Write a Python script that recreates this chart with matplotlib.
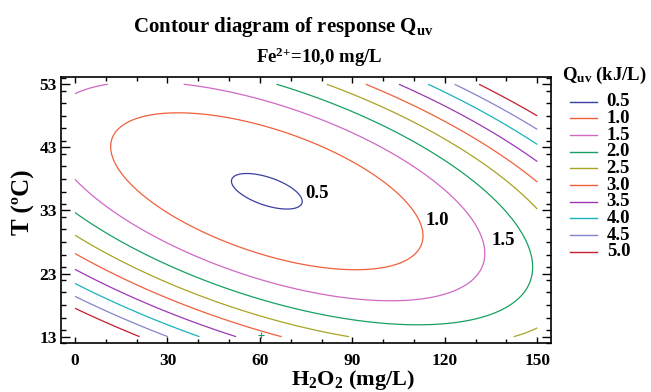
import numpy as np
import matplotlib
matplotlib.use('Agg')
import matplotlib.pyplot as plt
from matplotlib.lines import Line2D
from matplotlib.ticker import MultipleLocator

plt.rcParams['font.family'] = ['Liberation Serif', 'DejaVu Serif']
plt.rcParams['font.weight'] = 'bold'
plt.rcParams['mathtext.fontset'] = 'custom'
plt.rcParams['mathtext.rm'] = 'Liberation Serif:bold'
plt.rcParams['mathtext.it'] = 'Liberation Serif:bold'
plt.rcParams['mathtext.bf'] = 'Liberation Serif:bold'

# ---- contour levels and colours ----
levels = [0.5, 1.0, 1.5, 2.0, 2.5, 3.0, 3.5, 4.0, 4.5, 5.0]
level_labels = ['0.5', '1.0', '1.5', '2.0', '2.5', '3.0', '3.5', '4.0', '4.5', '5.0']
colors = ['#3a40a0', '#f0603c', '#d068c4', '#18a060', '#a8a424',
          '#f0603c', '#9c38b4', '#18b4bc', '#8484cc', '#c41e30']

# ---- points read on the contour lines: H2O2 (mg/L), T (C), Quv ----
pt_h2o2 = [50.8, 73.6, 56.8, 68.1,
           11.6, 112.8, 30.8, 89.2,
           0.0, 10.8, 35.4, 0.0, 133.2, 103.3,
           0.0, 65.6, 148.5, 108.7,
           0.0, 81.7, 150.0, 89.0, 142.2, 150.0,
           0.0, 94.4, 150.0, 67.1,
           0.0, 105.4, 150.0, 52.3,
           0.0, 114.6, 150.0, 40.6,
           0.0, 123.1, 150.0, 30.3,
           0.0, 131.2, 150.0, 20.9]
pt_temp = [37.5, 34.6, 38.8, 33.1,
           43.9, 28.75, 48.5, 23.5,
           51.6, 53.0, 53.0, 38.0, 26.4, 18.7,
           32.7, 53.0, 23.5, 15.0,
           29.0, 53.0, 33.1, 13.0, 13.0, 14.4,
           26.2, 53.0, 37.5, 13.0,
           23.6, 53.0, 40.7, 13.0,
           21.6, 53.0, 43.5, 13.0,
           19.3, 53.0, 45.8, 13.0,
           17.5, 53.0, 47.96, 13.0]
pt_q = [0.5] * 4 + [1.0] * 4 + [1.5] * 6 + [2.0] * 4 + [2.5] * 6 + \
       [3.0] * 4 + [3.5] * 4 + [4.0] * 4 + [4.5] * 4 + [5.0] * 4
# points where a contour meets the frame at a shallow angle count more
pt_weight = [1] * 4 + [1] * 4 + [1, 6, 6, 1, 1, 1] + [1] * 4 + [1] * 6 + \
            [1] * 4 + [1] * 4 + [1] * 4 + [1] * 4 + [1] * 4

h2o2_range = [0, 150]
temp_range = [13, 53]
xticks = [0, 30, 60, 90, 120, 150]
yticks = [13, 23, 33, 43, 53]

# contour annotations
ann_x = [78.6, 117.7, 138.8]
ann_y = [35.7, 31.4, 28.3]
ann_text = ['0.5', '1.0', '1.5']

# small marker near the bottom axis
mark_x = [60.5]
mark_y = [13.3]

# ---- quadratic response surface fitted to the read points ----
px = np.array(pt_h2o2); py = np.array(pt_temp); pq = np.array(pt_q)
pw = np.array(pt_weight, dtype=float)
u = (px - 75) / 75.0
v = (py - 33) / 20.0
M = np.column_stack([np.ones_like(u), u, v, u * u, u * v, v * v])
w = np.ones_like(u)
for _ in range(8):
    ww = w * pw
    beta, *_ = np.linalg.lstsq(M * ww[:, None], pq * ww, rcond=None)
    gx = (beta[1] + 2 * beta[3] * u + beta[4] * v) / (75 * 3.082)
    gy = (beta[2] + beta[4] * u + 2 * beta[5] * v) / (20 * 6.3)
    w = 1.0 / np.sqrt(gx ** 2 + gy ** 2)
    w = w / w.mean()

gx_ = np.linspace(h2o2_range[0], h2o2_range[1], 301)
gy_ = np.linspace(temp_range[0], temp_range[1], 241)
X, Y = np.meshgrid(gx_, gy_)
U = (X - 75) / 75.0
V = (Y - 33) / 20.0
Z = (beta[0] + beta[1] * U + beta[2] * V + beta[3] * U * U
     + beta[4] * U * V + beta[5] * V * V)

# ---- figure ----
W, H = 651, 392
fig = plt.figure(figsize=(W / 100, H / 100), dpi=100)
ax = fig.add_axes([61 / W, 1 - 343.3 / H, (550.7 - 61) / W, (343.3 - 77.3) / H])

ax.contour(X, Y, Z, levels=levels, colors=colors, linewidths=0.9)
ax.plot(mark_x, mark_y, '+', color=colors[3], ms=4, mew=0.8)

for tx, ty, tt in zip(ann_x, ann_y, ann_text):
    ax.text(tx, ty, tt, fontsize=13.5, fontweight='bold', ha='center', va='center')

ax.set_xlim(-4.54, 154.35)
ax.set_ylim(11.95, 54.1)
ax.set_xticks(xticks)
ax.set_yticks(yticks)
ax.xaxis.set_minor_locator(MultipleLocator(10))
ax.yaxis.set_minor_locator(MultipleLocator(2))
ax.tick_params(axis='both', which='both', direction='in', top=True, right=True,
               width=1.0, labelsize=12.5)
ax.tick_params(axis='x', which='major', length=4.5, pad=7)
ax.tick_params(axis='x', which='minor', length=3)
ax.tick_params(axis='y', which='major', length=6.5, pad=3)
ax.tick_params(axis='y', which='minor', length=3.5)
for s in ax.spines.values():
    s.set_linewidth(1.2)
for lab in ax.get_xticklabels() + ax.get_yticklabels():
    lab.set_fontweight('bold')

# titles and axis labels
fig.text(283.5 / W, 1 - 31.7 / H, r'Contour diagram of response Q$_{\mathrm{uv}}$',
         fontsize=15, fontweight='bold', ha='center', va='baseline')
fig.text(319 / W, 1 - 63.3 / H, r'Fe$^{2{+}}$=10,0 mg/L',
         fontsize=13.5, fontweight='bold', ha='center', va='baseline')
fig.text(353 / W, 1 - 385 / H, r'H$_2$O$_2$ (mg/L)',
         fontsize=16, fontweight='bold', ha='center', va='baseline')
fig.text(23 / W, 1 - 201.7 / H, 'T (ºC)', rotation=90,
         fontsize=18, fontweight='bold', ha='center', va='center')

# legend
fig.text(561.7 / W, 1 - 75 / H, r'Q$_{\mathrm{uv}}$ (kJ/L)', fontsize=13.5,
         fontweight='bold', ha='left', va='center')
for i, (lab, col) in enumerate(zip(level_labels, colors)):
    yy = 1 - (101.7 + 16.67 * i) / H
    fig.add_artist(Line2D([570 / W, 597.3 / W], [yy, yy], color=col, lw=1.0,
                          transform=fig.transFigure))
    fig.text(606.7 / W, yy, lab, fontsize=13.5, fontweight='bold',
             ha='left', va='center')

fig.savefig('out.png', dpi=100)
